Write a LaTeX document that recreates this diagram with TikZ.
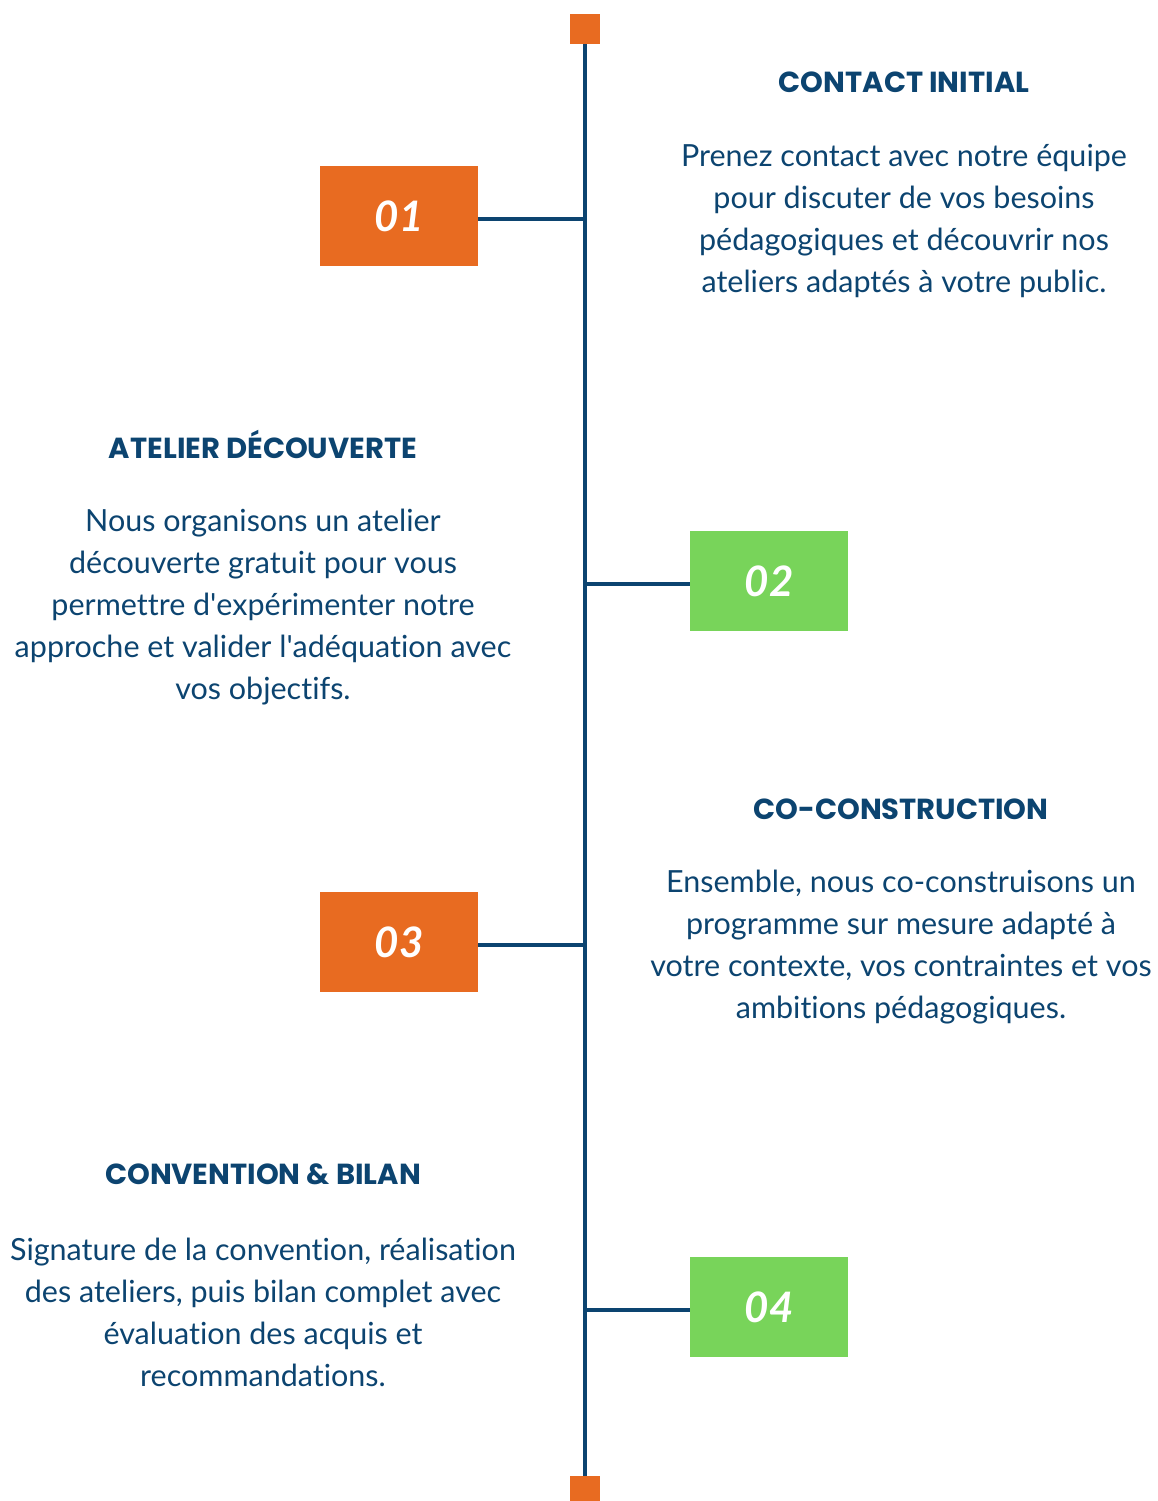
\documentclass[tikz,border=0pt]{standalone}
\usepackage{fontspec}
\setmainfont{Lato}[Ligatures={NoCommon}]
\newfontfamily\titlefont{Poppins}
\usetikzlibrary{positioning}
\definecolor{navy}{RGB}{12,68,112}
\definecolor{stepor}{RGB}{232,107,33}
\definecolor{stepgr}{RGB}{120,212,90}
\begin{document}
\begin{tikzpicture}[x=1pt,y=-1pt,
  every node/.style={inner sep=0pt},
  spine/.style={navy,line width=4pt},
  endsq/.style={fill=stepor,minimum size=30pt},
  numbox/.style={fill=#1,minimum width=158pt,minimum height=100pt,text=white,
    font=\fontsize{42}{44}\selectfont\bfseries\itshape},
  steptitle/.style={text=navy,anchor=base,font=\fontsize{29}{34}\titlefont\bfseries},
  stepbody/.style={text=navy,align=center,font=\fontsize{30.5}{42}\selectfont}]
\useasboundingbox (0,0) rectangle (1158,1501);
% spine
\node[endsq] (top) at (585,29) {};
\node[endsq] (bot) at (585,1491) {};
\draw[spine] (top.south) -- (bot.north);
% numbered boxes
\node[numbox=stepor] (n1) at (399,216) {01};
\node[numbox=stepgr] (n2) at (769,581) {02};
\node[numbox=stepor] (n3) at (399,942) {03};
\node[numbox=stepgr] (n4) at (769,1307) {04};
\draw[spine,line width=3.5pt] ([yshift=-3pt]n1.east) -- ([yshift=-3pt]n1.east -| top);
\draw[spine,line width=3.5pt] ([yshift=-3pt]n2.west) -- ([yshift=-3pt]n2.west -| top);
\draw[spine,line width=3.5pt] ([yshift=-3pt]n3.east) -- ([yshift=-3pt]n3.east -| top);
\draw[spine,line width=3.5pt] ([yshift=-3pt]n4.west) -- ([yshift=-3pt]n4.west -| top);
% step texts
\node[steptitle] (t1) at (904,93) {CONTACT INITIAL};
\node[stepbody] (b1) at (904,221) {Prenez contact avec notre équipe\\pour discuter de vos besoins\\pédagogiques et découvrir nos\\ateliers adaptés à votre public.};
\node[steptitle] (t2) at (263,458) {ATELIER DÉCOUVERTE};
\node[stepbody] (b2) at (263,607) {Nous organisons un atelier\\découverte gratuit pour vous\\permettre d\textquotesingle expérimenter notre\\approche et valider l\textquotesingle adéquation avec\\vos objectifs.};
\node[steptitle] (t3) at (901,819) {CO-CONSTRUCTION};
\node[stepbody] (b3) at (901,947) {Ensemble, nous co-construisons un\\programme sur mesure adapté à\\votre contexte, vos contraintes et vos\\ambitions pédagogiques.};
\node[steptitle] (t4) at (263,1184) {CONVENTION \& BILAN};
\node[stepbody] (b4) at (263,1312) {Signature de la convention, réalisation\\des ateliers, puis bilan complet avec\\évaluation des acquis et\\recommandations.};
\end{tikzpicture}
\end{document}
